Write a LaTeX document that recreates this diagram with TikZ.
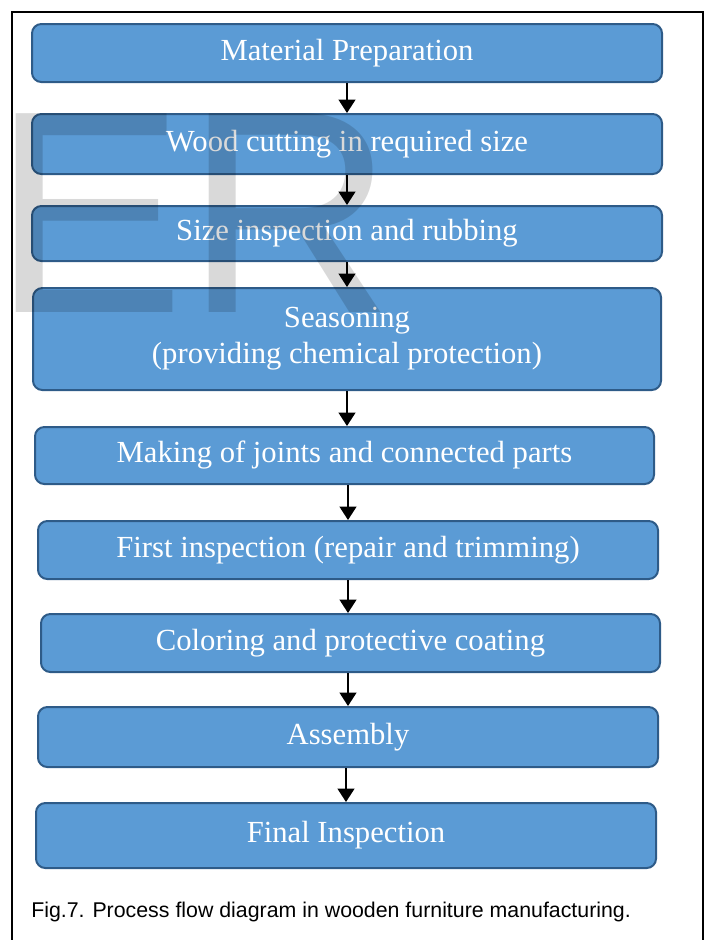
\documentclass[tikz,border=0pt]{standalone}
\usepackage{fontspec}
\setmainfont{Liberation Serif}
\newfontfamily\capfont{Liberation Sans}
\usetikzlibrary{arrows.meta}
\definecolor{boxblue}{HTML}{5B9BD5}
\definecolor{boxedge}{HTML}{2E5B88}

\begin{document}
\begin{tikzpicture}[x=0.75pt,y=-0.75pt,
  stepbox/.style={draw=boxedge, line width=1.5pt, fill=boxblue,
    rounded corners=7pt, text=white, align=center, inner sep=0pt,
    font=\fontsize{23}{27}\selectfont},
  flow/.style={line width=1.5pt, -{Triangle[width=12.5pt,length=10pt]}}]
\useasboundingbox (0,0) rectangle (709,940);

% frame
\draw[line width=1.5pt] (12,940) -- (12,12) -- (703,12) -- (703,940);

\node[stepbox, minimum width=472.5pt, minimum height=43.5pt] (prep) at (347,53) {Material Preparation};
\node[stepbox, minimum width=472.5pt, minimum height=45pt] (cut) at (347,144) {Wood cutting in required size};
\node[stepbox, minimum width=472.5pt, minimum height=41.25pt] (rub) at (347,233.5) {Size inspection and rubbing};
\node[stepbox, minimum width=471pt, minimum height=76.5pt] (season) at (347,339) {Seasoning\\(providing chemical protection)};
\node[stepbox, minimum width=464.25pt, minimum height=42.75pt] (joint) at (344.5,455.5) {Making of joints and connected parts};
\node[stepbox, minimum width=465pt, minimum height=43.5pt] (first) at (348,550) {First inspection (repair and trimming)};
\node[stepbox, minimum width=464.25pt, minimum height=43.5pt] (coat) at (350.5,643) {Coloring and protective coating};
\node[stepbox, minimum width=465pt, minimum height=45pt] (asm) at (348,737) {Assembly};
\node[stepbox, minimum width=465pt, minimum height=48.75pt] (final) at (346,835.5) {Final Inspection};

\draw[flow] (prep.south) -- (prep.south |- cut.north);
\draw[flow] (cut.south) -- (cut.south |- rub.north);
\draw[flow] (rub.south) -- (rub.south |- season.north);
\draw[flow] (season.south) -- (season.south |- joint.north);
\draw[flow] (joint.south -| first.north) -- (first.north);
\draw[flow] (first.south) -- (first.south |- coat.north);
\draw[flow] (first.south |- coat.south) -- (first.south |- asm.north);
\draw[flow] (final.north |- asm.south) -- (final.north);

% watermark
\node[anchor=base west, inner sep=0pt, text=black, text opacity=0.15,
  font=\capfont\fontsize{216.75}{216.75}\selectfont] (mark) at (-8,312) {ER};

\node[anchor=base west, inner sep=0pt, font=\capfont\fontsize{16}{19}\selectfont]
  (caption) at (31,917) {Fig.7. Process flow diagram in wooden furniture manufacturing.};
\end{tikzpicture}
\end{document}
